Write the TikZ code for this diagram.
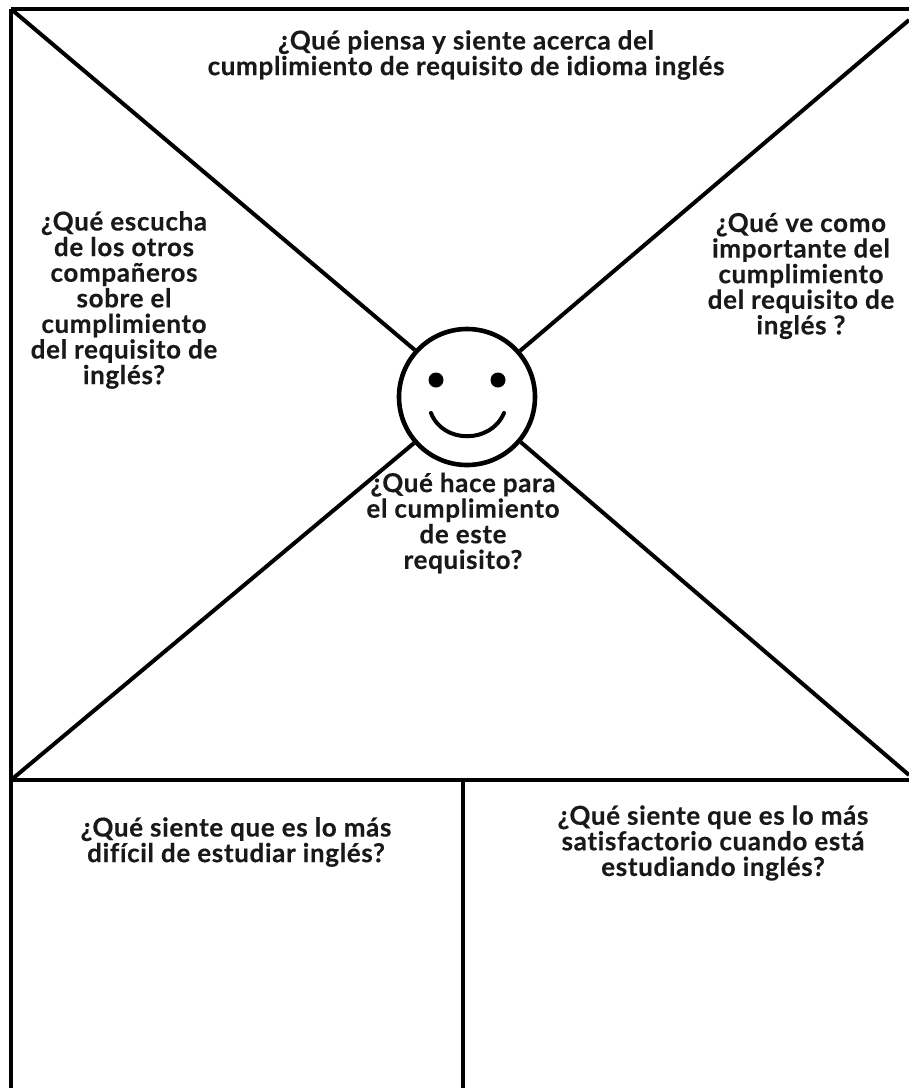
\documentclass[tikz,border=0pt]{standalone}
\usepackage{fontspec}
\setmainfont{Lato}[BoldFeatures={FakeBold=0.35,LetterSpace=2.5},Ligatures=NoCommon]
\tikzset{
 lbl/.style={font=\bfseries\fontsize{26}{25.6}\selectfont,align=center,text=black!90,inner sep=0pt},
 ln/.style={line width=4pt,draw=black},
}
\begin{document}
\begin{tikzpicture}[x=1pt,y=-1pt]
\useasboundingbox (0,0) rectangle (909,1088);
\fill[white] (0,0) rectangle (909,1088);
\coordinate (tl) at (11,9); \coordinate (tr) at (909,9); \coordinate (trd) at (909,20);
\coordinate (ml) at (11,780); \coordinate (mr) at (909,780); \coordinate (mrd) at (909,775);
\coordinate (bl) at (11,1088); \coordinate (mm) at (463,780); \coordinate (bm) at (463,1088);
\node[circle,ln,line width=4.6pt,minimum size=136pt,inner sep=0pt,fill=white] (face) at (467,397) {};
\draw[ln] (tl) -- (tr);
\draw[ln] (tl) -- (bl);
\draw[ln] (ml) -- (mr);
\draw[ln] (mm) -- (bm);
\draw[ln] (tl) -- (face.138);
\draw[ln] (trd) -- (face.41);
\draw[ln] (ml) -- (face.221);
\draw[ln] (mrd) -- (face.320);
\fill (436,380) circle (7.5);
\fill (498,380) circle (7.5);
\draw[ln,line cap=round] (431,413) .. controls (443,444) and (491,444) .. (504,413);
\node[lbl] (t1) at (466,55) {¿Qué piensa y siente acerca del\\cumplimiento de requisito de idioma inglés};
\node[lbl] (t2) at (124,300) {¿Qué escucha\\de los otros\\compañeros\\sobre el\\cumplimiento\\del requisito de\\inglés?};
\node[lbl] (t3) at (801,276) {¿Qué ve como\\importante del\\cumplimiento\\del requisito de\\inglés ?};
\node[lbl] (t4) at (463,523) {¿Qué hace para\\el cumplimiento\\de este\\requisito?};
\node[lbl] (t5) at (236,842) {¿Qué siente que es lo más\\difícil de estudiar inglés?};
\node[lbl] (t6) at (713,843) {¿Qué siente que es lo más\\satisfactorio cuando está\\estudiando inglés?};
\end{tikzpicture}
\end{document}
